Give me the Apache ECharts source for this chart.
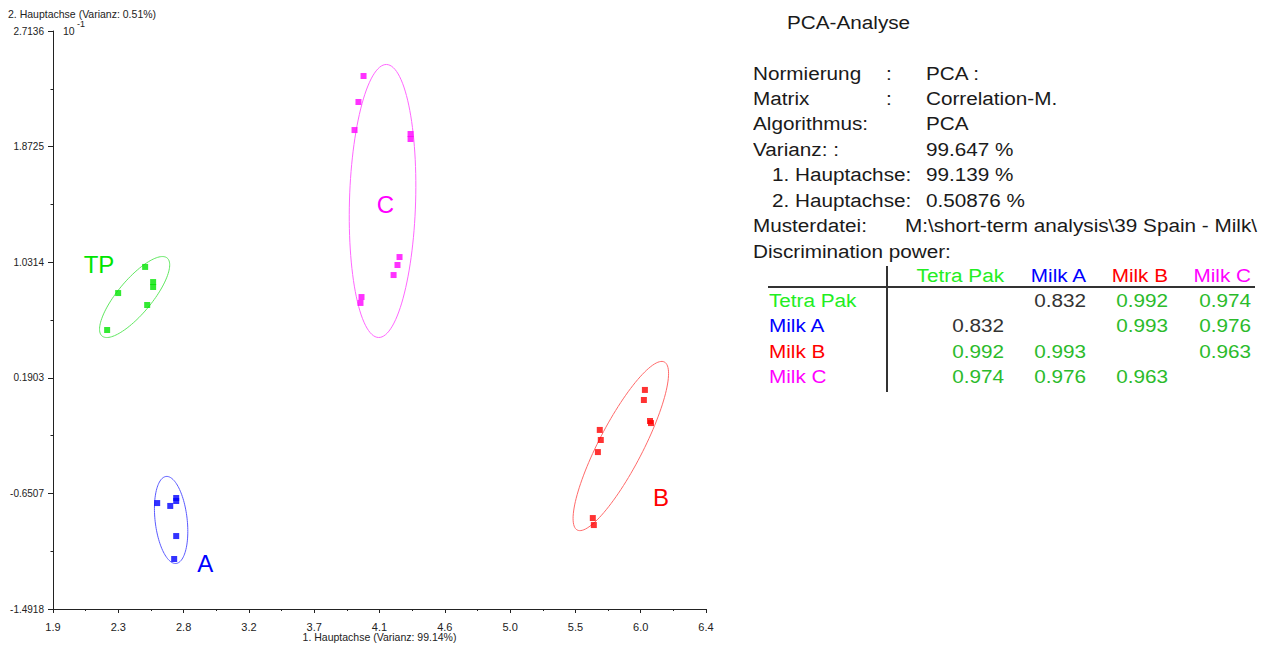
<!DOCTYPE html>
<html>
<head>
<meta charset="utf-8">
<script src="https://cdn.jsdelivr.net/npm/echarts@6/dist/echarts.min.js"></script>
<style>
  html, body { margin: 0; padding: 0; background: #fff; }
  #wrap { position: relative; width: 1270px; height: 645px; overflow: hidden; background: #fff; }
  #chart { position: absolute; left: 0; top: 0; width: 1270px; height: 645px; }
  .t { position: absolute; white-space: nowrap; font-family: 'Liberation Sans', Arial, sans-serif;
       font-size: 18px; line-height: 20px; height: 20px; color: #1a1a1a; transform: scaleX(1.15); transform-origin: 0 50%; }
  .r { transform-origin: 100% 50%; }
  .ln { position: absolute; background: #333; }
</style>
</head>
<body>
<div id="wrap">
  <div id="chart"></div>
  <div id="panel"></div>
</div>
<script>
// ---------- axis ticks ----------
const xTicks = [1.9, 2.35, 2.8, 3.25, 3.7, 4.15, 4.6, 5.05, 5.5, 5.95, 6.4];
const xTickLabels = ['1.9', '2.3', '2.8', '3.2', '3.7', '4.1', '4.6', '5.0', '5.5', '6.0', '6.4'];
const xMinorTicks = [2.125, 2.575, 3.025, 3.475, 3.925, 4.375, 4.825, 5.275, 5.725, 6.175];
const yTicks = [-1.4918, -0.6507, 0.1903, 1.0314, 1.8725, 2.7136];
const yTickLabels = ['-1.4918', '-0.6507', '0.1903', '1.0314', '1.8725', '2.7136'];
const yMinorTicks = [-1.07125, -0.2302, 0.61085, 1.45195, 2.29305];

// ---------- scores (1. Hauptachse, 2. Hauptachse x 10^-1) ----------
const tetraPak = [[2.535, 0.997], [2.590, 0.887], [2.590, 0.851], [2.349, 0.807], [2.549, 0.720], [2.273, 0.538]];
const milkA = [[2.618, -0.721], [2.749, -0.684], [2.749, -0.706], [2.708, -0.742], [2.749, -0.961], [2.735, -1.128]];
const milkB = [[5.979, 0.102], [5.972, 0.029], [6.014, -0.124], [6.021, -0.139], [5.668, -0.189],
               [5.675, -0.262], [5.655, -0.350], [5.620, -0.830], [5.627, -0.881]];
const milkC = [[4.040, 2.386], [4.005, 2.197], [3.978, 1.993], [4.364, 1.964], [4.364, 1.928],
               [4.288, 1.069], [4.274, 1.011], [4.247, 0.938], [4.026, 0.778], [4.019, 0.735]];

// ---------- group ellipses: centre x, centre y, major semi-axis (dx, dy), minor semi-axis (dx, dy) ----------
const ellipseTP = [2.4625, 0.778, 0.2243, 0.2838, 0.0901, -0.0792];
const ellipseA = [2.714, -0.844, 0.0345, -0.3165, 0.1097, 0.0131];
const ellipseB = [5.813, -0.306, 0.3002, 0.6112, 0.1348, -0.0735];
const ellipseC = [4.171, 1.4768, 0.0276, 0.9932, 0.2278, -0.0071];

// ---------- group labels ----------
const groupLabels = ['TP', 'A', 'B', 'C'];
const groupLabelPos = [[2.217, 1.018], [2.949, -1.164], [6.090, -0.677], [4.191, 1.448]];

// ---------- info panel ----------
const infoTitle = 'PCA-Analyse';
const infoLabels = ['Normierung', 'Matrix', 'Algorithmus:', 'Varianz: :', '1. Hauptachse:', '2. Hauptachse:', 'Musterdatei:', 'Discrimination power:'];
const infoValues = ['PCA  :', 'Correlation-M.', 'PCA', '99.647 %', '99.139 %', '0.50876 %', 'M:\\short-term analysis\\39 Spain - Milk\\', ''];
const tableGroups = ['Tetra Pak', 'Milk A', 'Milk B', 'Milk C'];
const discrimination = [
  [null, 0.832, 0.992, 0.974],
  [0.832, null, 0.993, 0.976],
  [0.992, 0.993, null, 0.963],
  [0.974, 0.976, 0.963, null]
];

const colTP = '#00e400', colA = '#0000ff', colB = '#ff0000', colC = '#ff00ff';
const groupColors = [colTP, colA, colB, colC];
const ellColors = ['#5fe85f', '#5a5aff', '#ff6a6a', '#ff66ff'];

const chart = echarts.init(document.getElementById('chart'), null, { renderer: 'svg' });

function labelFor(ticks, labels) {
  return function (v) {
    let best = 0, bd = Infinity;
    ticks.forEach((t, i) => { const d = Math.abs(t - v); if (d < bd) { bd = d; best = i; } });
    return labels[best];
  };
}

function ellipseRender(params, api) {
  const cx = api.value(0), cy = api.value(1), ax = api.value(2), ay = api.value(3), bx = api.value(4), by = api.value(5);
  const pts = [];
  const n = 120;
  for (let i = 0; i < n; i++) {
    const t = i / n * Math.PI * 2;
    const c = Math.cos(t), s = Math.sin(t);
    pts.push(api.coord([cx + ax * c + bx * s, cy + ay * c + by * s]));
  }
  return { type: 'polygon', shape: { points: pts }, style: { fill: 'none', stroke: ellColors[params.dataIndex], lineWidth: 1 } };
}

const font = "'Liberation Sans', Arial, sans-serif";

const option = {
  backgroundColor: '#fff',
  animation: false,
  grid: { left: 53, right: 564, top: 31, bottom: 36, containLabel: false, outerBoundsMode: 'none' },
  xAxis: [{
    type: 'value', min: 1.9, max: 6.4, position: 'bottom',
    axisLine: { show: true, onZero: false, lineStyle: { color: '#222', width: 1 } },
    axisTick: { show: true, customValues: xTicks, length: 4, lineStyle: { color: '#222' } },
    axisLabel: { show: true, customValues: xTicks, formatter: labelFor(xTicks, xTickLabels), margin: 12,
                 color: '#222', fontSize: 11, fontFamily: font },
    splitLine: { show: false },
    name: '1. Hauptachse (Varianz: 99.14%)', nameLocation: 'middle', nameGap: 22, nameMoveOverlap: false,
    nameTextStyle: { color: '#222', fontSize: 10.5, fontFamily: font }
  }, {
    type: 'value', min: 1.9, max: 6.4, position: 'bottom',
    axisLine: { show: false, onZero: false },
    axisTick: { show: true, customValues: xMinorTicks, length: 2, lineStyle: { color: '#222' } },
    axisLabel: { show: false }, splitLine: { show: false }
  }],
  yAxis: [{
    type: 'value', min: -1.4918, max: 2.7136, position: 'left',
    axisLine: { show: true, onZero: false, lineStyle: { color: '#222', width: 1 } },
    axisTick: { show: true, customValues: yTicks, length: 5, lineStyle: { color: '#222' } },
    axisLabel: { show: true, customValues: yTicks, formatter: labelFor(yTicks, yTickLabels), margin: 9,
                 color: '#222', fontSize: 10, fontFamily: font },
    splitLine: { show: false }
  }, {
    type: 'value', min: -1.4918, max: 2.7136, position: 'left',
    axisLine: { show: false, onZero: false },
    axisTick: { show: true, customValues: yMinorTicks, length: 2.5, lineStyle: { color: '#222' } },
    axisLabel: { show: false }, splitLine: { show: false }
  }],
  graphic: [
    { type: 'text', left: 8, top: 8, style: { text: '2. Hauptachse (Varianz: 0.51%)', fill: '#222', font: '10.5px ' + font } },
    { type: 'text', left: 63, top: 25, style: { text: '10', fill: '#222', font: '10.5px ' + font } },
    { type: 'text', left: 77, top: 19, style: { text: '-1', fill: '#222', font: '9px ' + font } }
  ],
  series: [
    { type: 'custom', name: 'ellipses', renderItem: ellipseRender, clip: false,
      encode: { x: 0, y: 1 }, data: [ellipseTP, ellipseA, ellipseB, ellipseC], z: 1 },
    { type: 'scatter', name: 'Tetra Pak', data: tetraPak, symbol: 'rect', symbolSize: 6, itemStyle: { color: colTP }, z: 3 },
    { type: 'scatter', name: 'Milk A', data: milkA, symbol: 'rect', symbolSize: 6, itemStyle: { color: colA }, z: 3 },
    { type: 'scatter', name: 'Milk B', data: milkB, symbol: 'rect', symbolSize: 6, itemStyle: { color: colB }, z: 3 },
    { type: 'scatter', name: 'Milk C', data: milkC, symbol: 'rect', symbolSize: 6, itemStyle: { color: colC }, z: 3 },
    { type: 'custom', name: 'labels', clip: false, encode: { x: 0, y: 1 },
      data: groupLabelPos,
      renderItem: function (params, api) {
        const p = api.coord([api.value(0), api.value(1)]);
        return { type: 'text', x: p[0], y: p[1],
                 style: { text: groupLabels[params.dataIndex], fill: groupColors[params.dataIndex],
                          font: '24px ' + font, align: 'center', verticalAlign: 'middle' } };
      }, z: 4 }
  ]
};
chart.setOption(option);

// ---------- info panel (HTML text) ----------
const panel = document.getElementById('panel');
function addText(txt, x, yc, color, right) {
  const d = document.createElement('div');
  d.className = 't' + (right ? ' r' : '');
  d.textContent = txt;
  d.style.top = (yc - 10) + 'px';
  if (right) { d.style.right = (1270 - x) + 'px'; } else { d.style.left = x + 'px'; }
  if (color) d.style.color = color;
  panel.appendChild(d);
  return d;
}
function addLine(x, y, w, h) {
  const d = document.createElement('div');
  d.className = 'ln';
  d.style.left = x + 'px'; d.style.top = y + 'px'; d.style.width = w + 'px'; d.style.height = h + 'px';
  panel.appendChild(d);
}
addText(infoTitle, 787, 23);
const rowY0 = 73.5, rowStep = 25.45;
infoLabels.forEach((lab, i) => {
  const y = rowY0 + rowStep * i;
  const indent = (i === 4 || i === 5) ? 772 : 753;
  addText(lab, indent, y);
  if (i === 0 || i === 1) addText(':', 886, y);
  if (infoValues[i]) {
    const vx = (i === 6) ? 905 : 926;
    addText(infoValues[i], vx, y);
  }
});
// table
const colRight = [1004, 1086, 1168, 1251];
const tabY0 = 276, tabStep = 25.2;
tableGroups.forEach((g, j) => addText(g, colRight[j], tabY0, groupColors[j] === colTP ? '#22ee22' : groupColors[j], true));
tableGroups.forEach((g, i) => {
  const y = tabY0 + tabStep * (i + 1);
  addText(g, 769, y, groupColors[i] === colTP ? '#22ee22' : groupColors[i]);
  discrimination[i].forEach((v, j) => {
    if (v === null) return;
    addText(v.toFixed(3), colRight[j], y, v >= 0.95 ? '#2bbb2b' : '#333', true);
  });
});
addLine(768, 286, 487, 2);
addLine(886, 266, 2, 126);
</script>
</body>
</html>
